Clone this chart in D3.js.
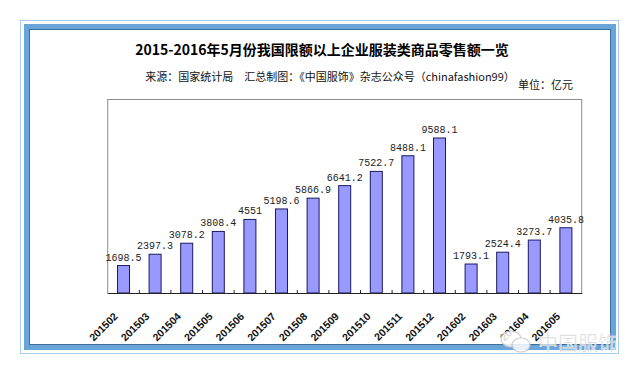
<!DOCTYPE html>
<html><head><meta charset="utf-8">
<script src="https://cdn.jsdelivr.net/npm/d3@7"></script>
<style>html,body{margin:0;padding:0;background:#fff}svg{display:block}</style>
</head><body>
<svg id="c" width="640" height="375"></svg>
<script>
const categories = ["201502","201503","201504","201505","201506","201507","201508","201509","201510","201511","201512","201602","201603","201604","201605"];
const values = [1698.5,2397.3,3078.2,3808.4,4551,5198.6,5866.9,6641.2,7522.7,8488.1,9588.1,1793.1,2524.4,3273.7,4035.8];
const yDomain = [0, 12000];
const titleText = "2015-2016年5月份我国限额以上企业服装类商品零售额一览";
const subtitleText = "来源：国家统计局\u3000汇总制图：《中国服饰》杂志公众号（chinafashion99）";
const unitText = "单位：亿元";
const watermarkText = "中国服饰";

(function(){
const svg = d3.select("#c");
const cjk = "'Noto Sans CJK SC','Noto Sans',sans-serif";

// frame
svg.append("rect").attr("x",20.5).attr("y",20.5).attr("width",598).attr("height",333)
  .attr("fill","none").attr("stroke","#a9cdee").attr("stroke-width",1);
svg.append("rect").attr("x",26.5).attr("y",26.5).attr("width",587).attr("height",321)
  .attr("fill","none").attr("stroke","#6aa5da").attr("stroke-width",5);
svg.append("rect").attr("x",29.5).attr("y",29.5).attr("width",581).attr("height",315)
  .attr("fill","#fff").attr("stroke","#3d6f9e").attr("stroke-width",1);

// titles
svg.append("text").attr("x",322).attr("y",55).attr("text-anchor","middle")
  .attr("font-family",cjk).attr("font-weight","bold").attr("font-size",14).attr("fill","#000").text(titleText);
svg.append("text").attr("x",330).attr("y",81).attr("text-anchor","middle")
  .attr("font-family",cjk).attr("font-size",11).attr("fill","#111").text(subtitleText);
svg.append("text").attr("x",518).attr("y",89)
  .attr("font-family",cjk).attr("font-size",11).attr("fill","#111").text(unitText);

// plot area
const pl = 107.7, pr = 581.7, pt = 99, pb = 293;
const x = d3.scaleBand().domain(categories).range([pl, pr]).paddingInner(0.62).paddingOuter(0.31);
const y = d3.scaleLinear().domain(yDomain).range([pb, pt]);

svg.append("rect").attr("x",pl).attr("y",pt+0.5).attr("width",pr-pl).attr("height",pb-pt)
  .attr("fill","#fff").attr("stroke","#8c8c8c").attr("stroke-width",1);

// bars
svg.append("g").selectAll("rect").data(values).join("rect")
  .attr("x",(d,i)=>x(categories[i]))
  .attr("y",d=>y(d))
  .attr("width",x.bandwidth())
  .attr("height",d=>y(0)-y(d))
  .attr("fill","#9999ff").attr("stroke","#1a1a5e").attr("stroke-width",1);

// value labels
svg.append("g").selectAll("text").data(values).join("text")
  .attr("x",(d,i)=>x(categories[i])+x.bandwidth()/2)
  .attr("y",d=>y(d)-5)
  .attr("text-anchor","middle")
  .attr("font-family","'Liberation Mono','DejaVu Sans Mono',monospace")
  .attr("font-size",10).attr("fill","#222")
  .text(d=>String(d));

// x axis
const step = x.step();
const ax = svg.append("g").attr("transform",`translate(0,${pb})`)
  .call(d3.axisBottom(x).tickSize(0).tickSizeOuter(0));
ax.select(".domain").attr("stroke","#222").attr("stroke-width",1.2);
ax.selectAll("text")
  .attr("x",0).attr("y",0).attr("dy",0)
  .attr("text-anchor","end")
  .attr("transform","translate(-5,24) rotate(-45)")
  .attr("font-family","'Liberation Sans',Arial,sans-serif")
  .attr("font-weight","bold").attr("font-size",10.5).attr("fill","#111");
// inward tick marks at category boundaries
svg.append("g").selectAll("line").data(categories.slice(1)).join("line")
  .attr("x1",d=>x(d)-step*0.31).attr("x2",d=>x(d)-step*0.31)
  .attr("y1",pb).attr("y2",pb-3)
  .attr("stroke","#222").attr("stroke-width",1);

// watermark
const wm = svg.append("g").attr("opacity",0.85);
wm.append("ellipse").attr("cx",511).attr("cy",339).attr("rx",10).attr("ry",8)
  .attr("fill","#fff").attr("stroke","#c8c8c8").attr("stroke-width",1.2);
wm.append("ellipse").attr("cx",521).attr("cy",345).attr("rx",9).attr("ry",7)
  .attr("fill","#fff").attr("stroke","#c8c8c8").attr("stroke-width",1.2);
wm.append("text").attr("x",538).attr("y",351)
  .attr("font-family",cjk).attr("font-size",20).attr("fill","#d0d0d0")
  .attr("stroke","#fff").attr("stroke-width",0.5).text(watermarkText);
})();
</script>
</body></html>
